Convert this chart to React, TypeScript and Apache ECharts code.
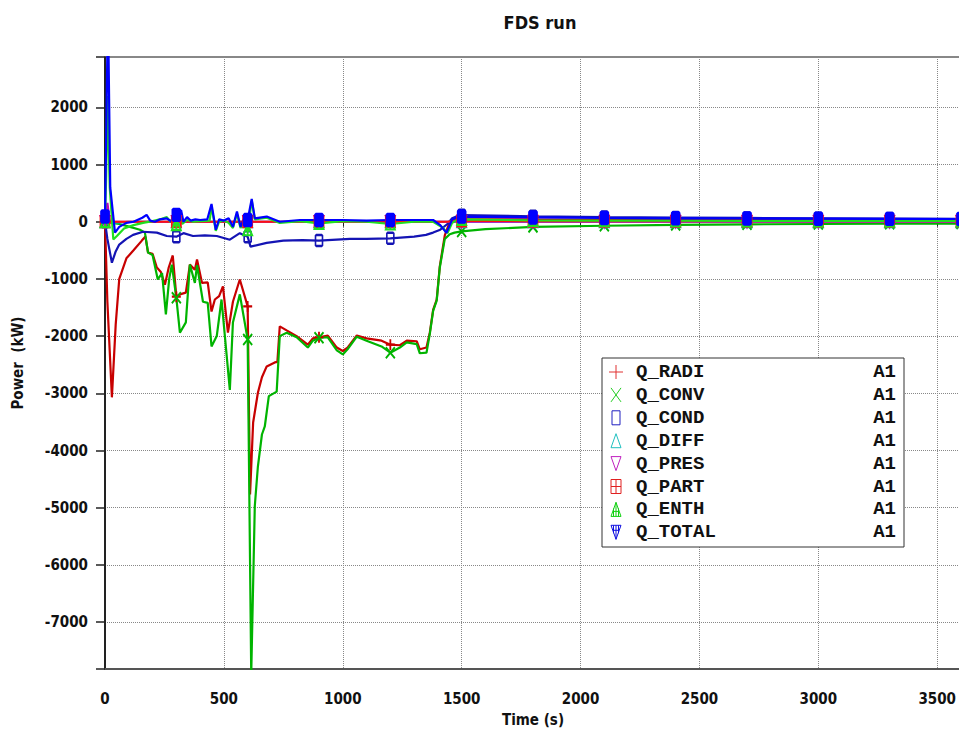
import React, { useEffect, useRef } from 'react';
import * as echarts from 'echarts';

const chartTitle = 'FDS run';
const xAxisName = 'Time (s)';
const yAxisName = 'Power  (kW)';
const unitLabel = 'A1';
const markerStep = 300;

// [time (s), power (kW)]
const qRadi: [number, number][] = [
  [0, 0], [10, -1400], [29, -3070], [45, -1800], [60, -1000], [90, -640], [120, -500], [155, -330],
  [170, -260], [181, -540], [200, -560], [218, -800], [235, -880], [252, -1100], [268, -800], [285, -590],
  [300, -1310], [315, -1270], [340, -1240], [357, -750], [378, -840], [387, -660], [408, -1070], [432, -1060],
  [448, -1570], [462, -1360], [480, -1300], [496, -1130], [517, -1940], [538, -1400], [567, -1010], [600, -1480],
  [610, -4770], [623, -3510], [643, -2990], [660, -2720], [680, -2530], [714, -2460], [725, -2450], [735, -1830],
  [764, -1900], [806, -2000], [853, -2150], [874, -2040], [900, -2020], [937, -1990], [975, -2200], [1000, -2260],
  [1020, -2200], [1059, -1990], [1100, -2040], [1163, -2080], [1200, -2150], [1240, -2160], [1269, -2080],
  [1311, -2090], [1324, -2230], [1352, -2200], [1366, -1940], [1380, -1540], [1395, -1360], [1408, -780],
  [1429, -240], [1450, 0], [1470, 50], [1500, 45], [1800, 40], [2100, 38], [2400, 36], [2700, 35],
  [3000, 34], [3300, 33], [3600, 32],
];

const qConv: [number, number][] = [
  [0, 0], [30, -20], [60, -40], [105, -90], [147, -140], [168, -190], [181, -540], [200, -580],
  [222, -1010], [240, -900], [256, -1620], [270, -1000], [281, -750], [300, -1330], [315, -1940], [340, -1760],
  [357, -750], [378, -1070], [387, -760], [412, -1400], [432, -1420], [448, -2180], [470, -2000], [490, -1360],
  [525, -2940], [538, -1760], [567, -1270], [600, -2060], [615, -7900], [630, -4970], [643, -4280], [660, -3720],
  [672, -3580], [689, -3050], [722, -2970], [735, -2000], [764, -1940], [806, -2020], [853, -2200], [874, -2080],
  [900, -2030], [937, -2020], [975, -2250], [1000, -2320], [1020, -2230], [1059, -2010], [1100, -2080],
  [1163, -2180], [1200, -2290], [1240, -2200], [1269, -2110], [1311, -2140], [1324, -2300], [1352, -2290],
  [1366, -1960], [1380, -1560], [1395, -1380], [1408, -800], [1429, -300], [1450, -220], [1470, -190],
  [1500, -170], [1600, -130], [1800, -90], [2100, -70], [2400, -55], [2700, -45], [3000, -40], [3300, -35],
  [3600, -32],
];

const qCond: [number, number][] = [
  [0, 0], [10, -300], [29, -716], [45, -520], [60, -400], [90, -300], [118, -230], [160, -175],
  [218, -190], [260, -250], [300, -262], [330, -200], [370, -250], [420, -240], [470, -250], [525, -314],
  [567, -200], [600, -262], [612, -436], [680, -370], [750, -330], [830, -320], [900, -330], [1030, -300],
  [1100, -300], [1200, -290], [1300, -260], [1350, -230], [1380, -190], [1410, -140], [1440, -40],
  [1460, 60], [1480, 95], [1500, 115], [1800, 95], [2100, 82], [2400, 72], [2700, 66], [3000, 60],
  [3300, 56], [3600, 52],
];

const qDiff: [number, number][] = [
  [0, 0], [10, 60], [30, -20], [100, 0], [300, 0], [600, 0], [900, 0], [1200, 0], [1500, 0],
  [1800, 0], [2100, 0], [2400, 0], [2700, 0], [3000, 0], [3300, 0], [3600, 0],
];

const qPres: [number, number][] = [
  [0, 0], [5, 200], [10, 330], [20, 0], [300, 0], [600, 0], [900, 0], [1200, 0], [1500, 0],
  [1800, 0], [2100, 0], [2400, 0], [2700, 0], [3000, 0], [3300, 0], [3600, 0],
];

const qPart: [number, number][] = [
  [0, 0], [300, 0], [600, 0], [900, 0], [1200, 0], [1440, 0], [1470, 15], [1500, 15],
  [1800, 12], [2100, 10], [2400, 10], [2700, 10], [3000, 10], [3300, 10], [3600, 10],
];

const qEnth: [number, number][] = [
  [0, 0], [5, 800], [10, 2200], [20, 600], [35, -310], [50, -250], [80, -120], [120, -60],
  [160, -20], [200, 10], [230, 40], [260, 80], [275, 0], [290, 90], [300, -50], [310, 110],
  [325, -40], [345, 30], [370, 0], [400, 10], [440, 20], [448, 260], [466, -160], [480, 0],
  [500, 20], [520, -20], [538, -110], [555, 140], [570, -110], [585, 20], [600, -140], [617, 370],
  [630, 40], [680, 70], [735, -20], [820, 10], [900, -30], [1000, 10], [1100, 0], [1200, -40],
  [1300, 0], [1380, 0], [1420, -100], [1440, -200], [1460, -20], [1480, 30], [1500, 40],
  [1800, 25], [2100, 20], [2400, 18], [2700, 16], [3000, 15], [3300, 14], [3600, 13],
];

const qTotal: [number, number][] = [
  [0, 90], [5, 1500], [10, 3000], [15, 2900], [22, 600], [42, -190], [60, -90], [90, -20],
  [120, 0], [157, 70], [175, 120], [190, 20], [210, 0], [230, 40], [260, 60], [280, 0],
  [290, 150], [300, 120], [310, 170], [320, 200], [330, 0], [345, 80], [360, 20], [380, 40],
  [400, 30], [430, 40], [448, 310], [466, -140], [480, 40], [500, 20], [520, 60], [538, -90],
  [555, 180], [570, -90], [585, 60], [600, 30], [617, 400], [630, 60], [680, 90], [735, 0],
  [820, 30], [900, 30], [1000, 30], [1100, 20], [1200, 30], [1300, 30], [1380, 30], [1410, -60],
  [1436, -195], [1460, 40], [1480, 80], [1500, 90], [1800, 75], [2100, 65], [2400, 60],
  [2700, 56], [3000, 53], [3300, 50], [3600, 48],
];

const P_PLUS = 'path://M5,0L5,12M0,6L10,6';
const P_CROSS = 'path://M0,0L10,12M10,0L0,12';
const P_RECT = 'path://M1,0L7,0L8,1L8,11L7,12L1,12L0,11L0,1Z';
const P_TRI_UP = 'path://M5,0L10,12L0,12Z';
const P_TRI_DN = 'path://M0,0L10,0L5,12Z';
const P_BOX_PLUS = 'path://M0,0L10,0L10,12L0,12ZM5,0L5,12M0,6L10,6';
const P_TRI_UP_L = 'path://M5,0L10,12L0,12ZM5,0L5,12M2.5,7L7.5,7';
const P_TRI_DN_L = 'path://M1,0L7,0L8,1L8,11L7,12L1,12L0,11L0,1Z';

const defs = [
  { name: 'Q_RADI', data: qRadi, line: '#c80000', sym: '#e03030', marker: P_PLUS, fill: 'rgba(0,0,0,0)', size: [9, 11], kind: 'plus' },
  { name: 'Q_CONV', data: qConv, line: '#00b400', sym: '#22cc22', marker: P_CROSS, fill: 'rgba(0,0,0,0)', size: [9, 11], kind: 'cross' },
  { name: 'Q_COND', data: qCond, line: '#1414b4', sym: '#2020c0', marker: P_RECT, fill: 'rgba(0,0,0,0)', size: [7, 11], kind: 'rect' },
  { name: 'Q_DIFF', data: qDiff, line: '#00c0c0', sym: '#20c0c0', marker: P_TRI_UP, fill: 'rgba(0,0,0,0)', size: [9, 11], kind: 'triUp' },
  { name: 'Q_PRES', data: qPres, line: '#c000c0', sym: '#c020c0', marker: P_TRI_DN, fill: 'rgba(0,0,0,0)', size: [9, 11], kind: 'triDn' },
  { name: 'Q_PART', data: qPart, line: '#ff1010', sym: '#e02020', marker: P_BOX_PLUS, fill: 'rgba(0,0,0,0)', size: [9, 11], kind: 'boxPlus' },
  { name: 'Q_ENTH', data: qEnth, line: '#20e020', sym: '#10d010', marker: P_TRI_UP_L, fill: 'rgba(0,0,0,0)', size: [9, 11], kind: 'triUpL' },
  { name: 'Q_TOTAL', data: qTotal, line: '#0000ff', sym: '#1010e0', marker: P_TRI_DN_L, fill: '#0000ff', size: [8, 12], kind: 'triDnL' },
];

const axisFont = "'Liberation Sans Narrow', 'Arial Narrow', 'DejaVu Sans Condensed', 'Liberation Sans', Arial, sans-serif";
const monoFont = "'Liberation Mono', 'Courier New', 'DejaVu Sans Mono', monospace";

function legendSymbol(kind: string, cx: number, cy: number, color: string): any[] {
  const s = { stroke: color, lineWidth: 1, fill: 'none' };
  const ln = (x1: number, y1: number, x2: number, y2: number) => ({
    type: 'line', shape: { x1, y1, x2, y2 }, style: { ...s }, silent: true,
  });
  const poly = (pts: number[][]) => ({ type: 'polygon', shape: { points: pts }, style: { ...s }, silent: true });
  const h = 7;
  const w = 5;
  switch (kind) {
    case 'plus':
      return [ln(cx, cy - h, cx, cy + h), ln(cx - 7, cy, cx + 7, cy)];
    case 'cross':
      return [ln(cx - w, cy - h, cx + w, cy + h), ln(cx + w, cy - h, cx - w, cy + h)];
    case 'rect':
      return [{ type: 'rect', shape: { x: cx - 4, y: cy - h, width: 8, height: 2 * h }, style: { ...s }, silent: true }];
    case 'triUp':
      return [poly([[cx, cy - h], [cx + w, cy + h], [cx - w, cy + h]])];
    case 'triDn':
      return [poly([[cx - w, cy - h], [cx + w, cy - h], [cx, cy + h]])];
    case 'boxPlus':
      return [
        { type: 'rect', shape: { x: cx - w, y: cy - h, width: 2 * w, height: 2 * h }, style: { ...s }, silent: true },
        ln(cx, cy - h, cx, cy + h), ln(cx - w, cy, cx + w, cy),
      ];
    case 'triUpL':
      return [poly([[cx, cy - h], [cx + w, cy + h], [cx - w, cy + h]]), ln(cx, cy - h, cx, cy + h), ln(cx - 3, cy + 2, cx + 3, cy + 2), ln(cx - 2.5, cy - 1, cx - 2.5, cy + h), ln(cx + 2.5, cy - 1, cx + 2.5, cy + h)];
    case 'triDnL':
    default:
      return [poly([[cx - w, cy - h], [cx + w, cy - h], [cx, cy + h]]), ln(cx, cy - h, cx, cy + h), ln(cx - 3, cy - 2, cx + 3, cy - 2), ln(cx - 2.5, cy - h, cx - 2.5, cy + 1), ln(cx + 2.5, cy - h, cx + 2.5, cy + 1)];
  }
}

export default function App() {
  const ref = useRef<HTMLDivElement>(null);

  useEffect(() => {
    if (!ref.current) return;
    const chart = echarts.init(ref.current, null, { renderer: 'svg' });

    const series: any[] = defs.map((d) => ({
      name: d.name,
      type: 'line',
      xAxisIndex: 0,
      data: d.data,
      showSymbol: true,
      showAllSymbol: true,
      symbol: d.marker,
      symbolSize: (val: number[]) => (val[0] % markerStep === 0 ? d.size : 0),
      lineStyle: { color: d.line, width: 2.2 },
      itemStyle: { color: d.fill, borderColor: d.line, borderWidth: 2 },
      emphasis: { disabled: true },
      clip: true,
      animation: false,
    }));

    const box = { x: 602, y: 358, w: 302, h: 189 };
    const rowY0 = 372;
    const rowStep = 22.9;
    const graphics: any[] = [
      {
        type: 'rect',
        shape: { x: box.x, y: box.y, width: box.w, height: box.h },
        style: { fill: '#fff', stroke: '#333', lineWidth: 1 },
        z: 100,
        silent: true,
      },
    ];
    defs.forEach((d, i) => {
      const cy = rowY0 + i * rowStep;
      legendSymbol(d.kind, 616, cy, d.sym).forEach((g) => graphics.push({ ...g, z: 101 }));
      graphics.push({
        type: 'text', x: 636, y: cy, z: 101, silent: true,
        style: { text: d.name, fill: '#111', font: `bold 19px ${monoFont}`, align: 'left', verticalAlign: 'middle' },
      });
      graphics.push({
        type: 'text', x: 896, y: cy, z: 101, silent: true,
        style: { text: unitLabel, fill: '#111', font: `bold 19px ${monoFont}`, align: 'right', verticalAlign: 'middle' },
      });
    });

    chart.setOption({
      animation: false,
      backgroundColor: '#fff',
      title: {
        text: chartTitle,
        left: 535,
        top: 8,
        textAlign: 'center',
        textStyle: { fontFamily: axisFont, fontWeight: 'bold', fontSize: 18, color: '#111' },
      },
      grid: {
        left: 105, right: -2, top: 57, bottom: 64,
        show: true, borderColor: '#111', borderWidth: 1, backgroundColor: 'transparent',
        containLabel: false,
        outerBoundsMode: 'none',
      },
      xAxis: [
        {
          type: 'value', min: 0, max: 3600, interval: 500,
          name: xAxisName, nameLocation: 'middle', nameGap: 43,
          nameTextStyle: { fontFamily: axisFont, fontWeight: 'bold', fontSize: 15, color: '#111' },
          axisLine: { show: true, onZero: false, lineStyle: { color: '#555', width: 2 } },
          axisTick: { show: false },
          axisLabel: {
            margin: 22, fontFamily: axisFont, fontWeight: 'bold', fontSize: 15, color: '#111',
            formatter: (v: number) => (v % 500 === 0 ? String(v) : ''),
          },
          splitLine: { show: true, lineStyle: { color: '#888', type: 'dotted', width: 1 } },
        },
        {
          type: 'value', min: 0, max: 3600, interval: 500, position: 'bottom',
          axisLine: { show: true, onZero: true, lineStyle: { color: 'rgba(0,0,0,0)', width: 0 } },
          axisTick: { show: true, length: 5, inside: false, lineStyle: { color: '#222', width: 1 } },
          axisLabel: { show: false },
          splitLine: { show: false },
        },
      ],
      yAxis: {
        type: 'value', min: -7820, max: 2880, splitNumber: 10,
        name: yAxisName, nameLocation: 'middle', nameGap: 80, nameRotate: 90,
        nameTextStyle: { fontFamily: axisFont, fontWeight: 'bold', fontSize: 15, color: '#111' },
        axisLine: { show: true, onZero: false, lineStyle: { color: '#000', width: 1.5 } },
        axisTick: { show: true, length: 9, lineStyle: { color: '#222', width: 1.5 } },
        axisLabel: {
          margin: 17, fontFamily: axisFont, fontWeight: 'bold', fontSize: 15, color: '#111',
          formatter: (v: number) => (Math.abs(v % 1000) < 1e-6 ? String(v) : ''),
        },
        splitLine: { show: true, lineStyle: { color: '#888', type: 'dotted', width: 1 } },
      },
      series,
      graphic: graphics,
    });

    return () => chart.dispose();
  }, []);

  return (
    <div
      ref={ref}
      style={{ position: 'fixed', left: 0, top: 0, width: 959, height: 733, background: '#fff' }}
    />
  );
}
